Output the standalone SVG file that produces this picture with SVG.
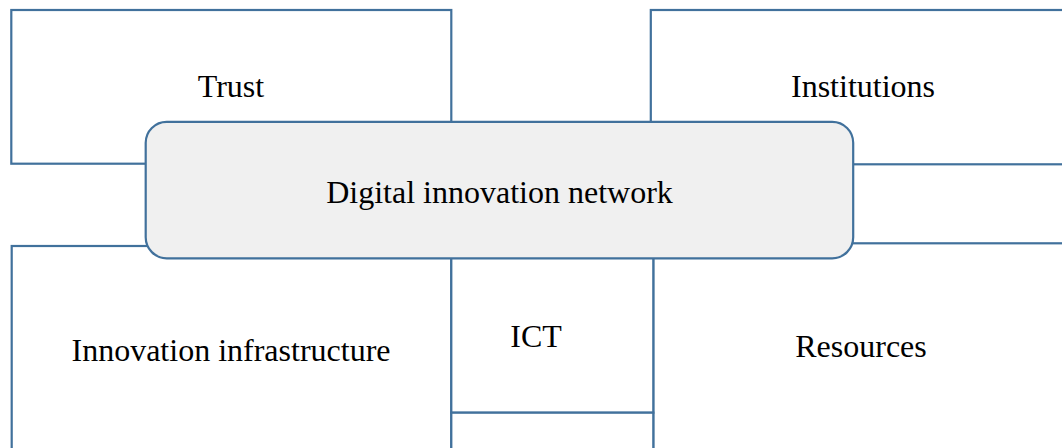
<svg xmlns="http://www.w3.org/2000/svg" width="1062" height="448" viewBox="0 0 1062 448">
  <style>
    .box { fill: #ffffff; stroke: #41719c; stroke-width: 2.2; }
    .hub { fill: #f0f0f0; stroke: #41719c; stroke-width: 2.2; }
    .lbl { font-family: "Liberation Serif", "Times New Roman", serif; font-size: 32px; fill: #000000; text-anchor: middle; }
  </style>
  <rect width="1062" height="448" fill="#ffffff"/>
  <g id="trust">
    <rect class="box" x="11.3" y="10" width="440" height="153.7"/>
    <text class="lbl" x="231" y="97.3">Trust</text>
  </g>
  <g id="institutions">
    <rect class="box" x="650.8" y="10" width="430" height="154.3"/>
    <text class="lbl" x="863" y="97.3">Institutions</text>
  </g>
  <g id="innovation-infrastructure">
    <rect class="box" x="11.7" y="246" width="439.6" height="220"/>
    <text class="lbl" x="231" y="361">Innovation infrastructure</text>
  </g>
  <g id="resources">
    <rect class="box" x="653.3" y="243.3" width="430" height="230"/>
    <text class="lbl" x="861" y="357.3">Resources</text>
  </g>
  <g id="ict">
    <rect class="box" x="451.3" y="246" width="202" height="166.7"/>
    <text class="lbl" x="536" y="347.3">ICT</text>
  </g>
  <g id="lower-box">
    <rect class="box" x="451.3" y="412.7" width="202" height="60"/>
  </g>
  <g id="digital-innovation-network">
    <rect class="hub" x="145.7" y="121.8" width="707.5" height="136.5" rx="21" ry="21"/>
    <text class="lbl" x="499.5" y="203.3">Digital innovation network</text>
  </g>
</svg>
